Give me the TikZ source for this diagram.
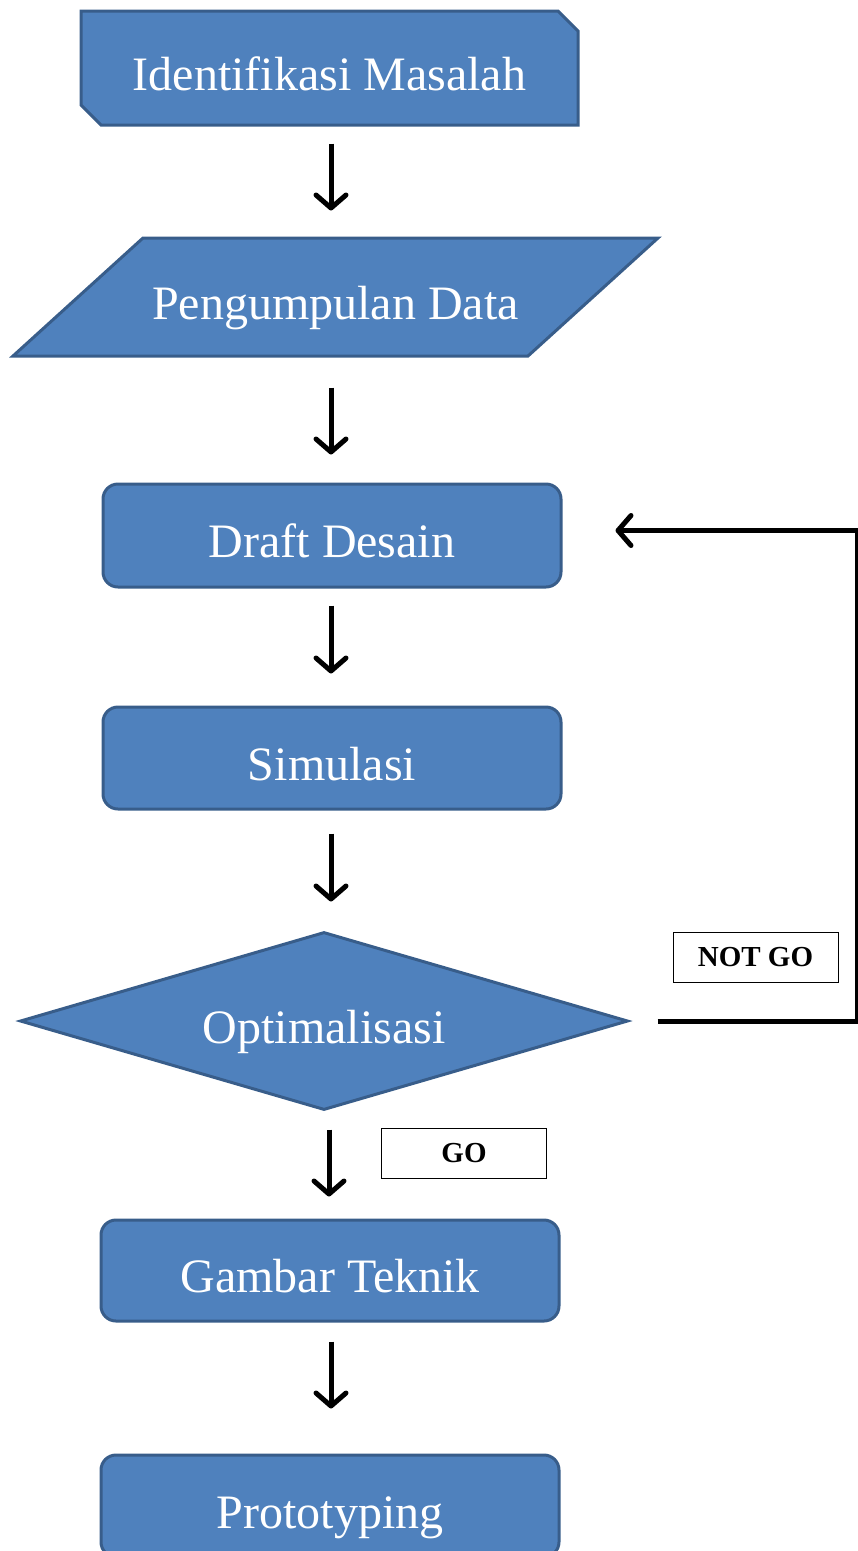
\documentclass[tikz,border=0pt]{standalone}
\usepackage{fontspec}
\setmainfont{Liberation Serif}
\usetikzlibrary{shapes.geometric,shapes.misc,arrows.meta}
\definecolor{boxfill}{HTML}{4F81BD}
\definecolor{boxline}{HTML}{385D8A}

\begin{document}
\begin{tikzpicture}[x=1pt,y=-1pt,
	blok/.style={draw=boxline,line width=3pt,fill=boxfill,text=white,
		font=\fontsize{48}{56}\selectfont,text height=44pt,text depth=0pt,inner sep=0pt},
	proses/.style={blok,rounded corners=15pt,minimum width=458pt,minimum height=102pt},
	tag/.style={draw,line width=1pt,font=\bfseries\fontsize{29}{34}\selectfont,
		minimum width=165pt,minimum height=50pt,inner sep=0pt},
	panah/.style={line width=5pt,-{Straight Barb[round,length=13pt,width=30pt]}}]
	\useasboundingbox (0,0) rectangle (858,1551);
	\clip (0,0) rectangle (858,1551);
	%
	\node[blok,chamfered rectangle,chamfered rectangle corners={north east,south west},
		chamfered rectangle xsep=10pt,chamfered rectangle ysep=10pt,
		minimum width=497pt,minimum height=114pt] (idm) at (329.5,68) {Identifikasi Masalah};
	\draw[blok] (143,238) -- (658,238) -- (528,356) -- (13,356) -- cycle;
	\node[blok,draw=none,fill=none,minimum height=118pt] (pd) at (335.5,297) {Pengumpulan Data};
	\node[proses,minimum height=103pt] (dd) at (332,535.5) {Draft Desain};
	\node[proses] (sim) at (332,758) {Simulasi};
	\node[blok,diamond,aspect=3.4,minimum width=608pt,minimum height=178pt] (opt) at (324,1021) {Optimalisasi};
	\node[proses,minimum height=101pt] (gt) at (330,1270.5) {Gambar Teknik};
	\node[proses] (proto) at (330,1506) {Prototyping};
	%
	\node[tag] (notgo) at (755.5,957) {NOT GO};
	\node[tag] (go) at (464,1153) {GO};
	\coordinate (balik) at (857.5,1021);
	%
	\draw[panah,shorten <=17pt,shorten >=26pt] ([xshift=1.5pt]idm.south) -- ([xshift=1.5pt]idm.south |- pd.north);
	\draw[panah,shorten <=30pt,shorten >=28pt] ([xshift=-4.5pt]pd.south) -- ([xshift=-4.5pt]pd.south |- dd.north);
	\draw[panah,shorten <=17pt,shorten >=32pt] ([xshift=-1pt]dd.south) -- ([xshift=-1pt]dd.south |- sim.north);
	\draw[panah,shorten <=23pt,shorten >=29pt] ([xshift=-1pt]sim.south) -- ([xshift=-1pt]sim.south |- opt.north);
	\draw[panah,shorten <=18pt,shorten >=22pt] ([xshift=5pt]opt.south) -- ([xshift=5pt]opt.south |- gt.north);
	\draw[panah,shorten <=19pt,shorten >=45pt] ([xshift=1pt]gt.south) -- ([xshift=1pt]gt.south |- proto.north);
	\draw[panah,shorten <=28pt,shorten >=53pt] (opt.east) -- (balik) |- ([yshift=5pt]dd.east);
\end{tikzpicture}
\end{document}
